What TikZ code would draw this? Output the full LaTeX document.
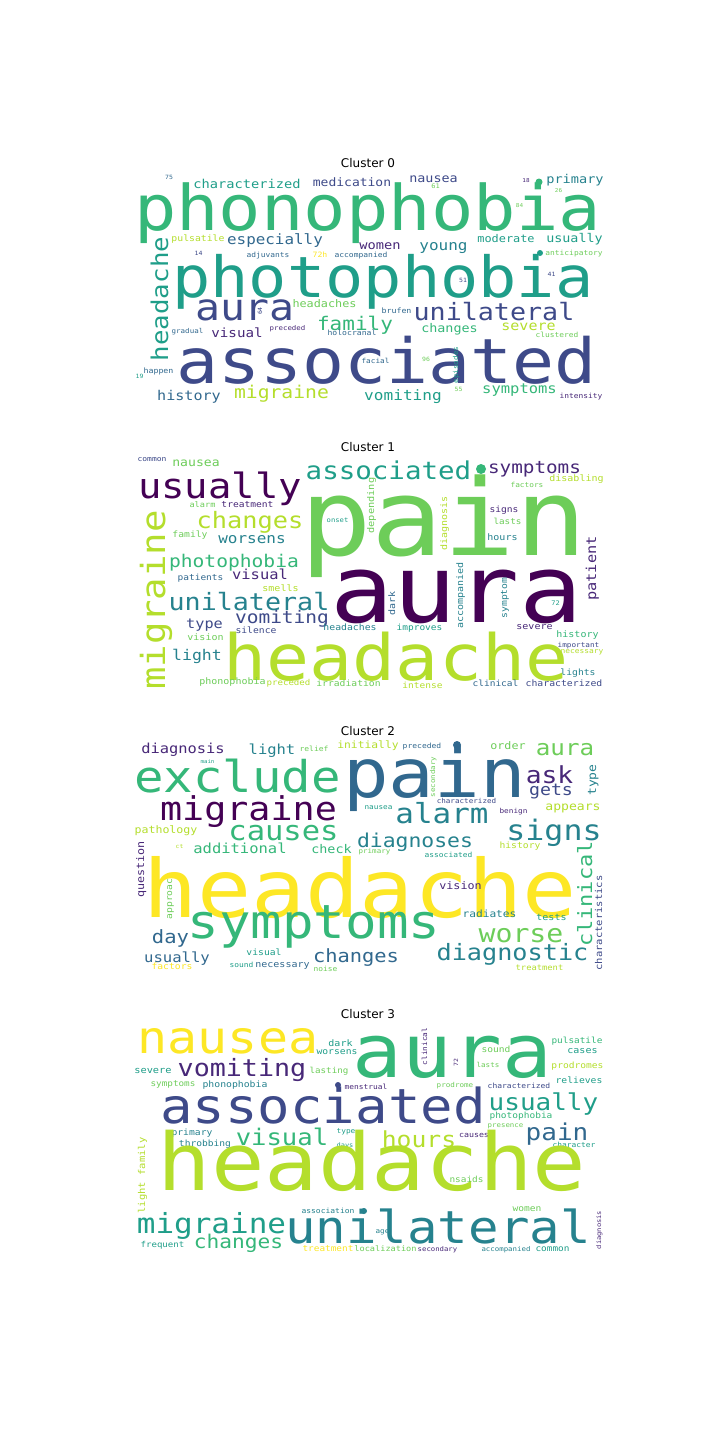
\documentclass[tikz,border=0pt]{standalone}
\usepackage{fontspec}
\usepackage{xcolor}
\usepackage{tikz}
\newfontfamily\cloudfont[FakeStretch=1.12]{DejaVu Sans Mono}
\newfontfamily\titlefont{DejaVu Sans}
\definecolor{vA}{HTML}{440154}
\definecolor{vB}{HTML}{482878}
\definecolor{vC}{HTML}{3E4A89}
\definecolor{vD}{HTML}{31688E}
\definecolor{vE}{HTML}{26828E}
\definecolor{vF}{HTML}{1F9E89}
\definecolor{vG}{HTML}{35B779}
\definecolor{vH}{HTML}{6DCD59}
\definecolor{vI}{HTML}{B4DE2C}
\definecolor{vJ}{HTML}{FDE725}

\begin{document}
\begin{tikzpicture}[x=1pt,y=-1pt,
  word/.style={font={\pgfmathsetmacro\wsz{#1/1.12}\cloudfont\fontsize{\wsz pt}{\wsz pt}\selectfont},inner sep=0pt,anchor=base},
  vword/.style={word=#1,rotate=90},
  ctitle/.style={font=\titlefont\fontsize{12pt}{12pt}\selectfont,inner sep=0pt,anchor=base}]
  \useasboundingbox (0,0) rectangle (720,1440);
  \fill[white] (0,0) rectangle (720,1440);

  \node[ctitle] (t0) at (368,167) {Cluster 0};
  \node[word=6.5,vD] (a-75) at (169,179) {75};
  \node[word=13.7,vF] (a-characterized) at (247,188) {characterized};
  \node[word=13,vC] (a-medication) at (352,186) {medication};
  \node[word=13.4,vC] (a-nausea) at (433.5,182) {nausea};
  \node[word=7,vH] (a-61) at (435.5,188) {61};
  \node[word=6,vB] (a-18) at (526,182) {18};
  \fill[vG] (539,182) circle (3.5);
  \node[word=13.6,vE] (a-primary) at (575,183) {primary};
  \node[word=6,vH] (a-26) at (558.5,192) {26};
  \node[word=6,vH] (a-84) at (519.5,207) {84};
  \node[word=70.5,vG] (a-phonophobia) at (367.5,230) {phonophobia};
  \node[word=9.8,vI] (a-pulsatile) at (198,241) {pulsatile};
  \node[word=15.9,vD] (a-especially) at (275,244) {especially};
  \node[word=6.5,vC] (a-14) at (198.5,255) {14};
  \node[word=7.9,vD] (a-adjuvants) at (268,257) {adjuvants};
  \node[word=13.7,vB] (a-women) at (380,249) {women};
  \node[word=16,vE] (a-young) at (443.5,250) {young};
  \node[word=8.2,vJ] (a-72h) at (320,257) {72h};
  \node[word=8,vD] (a-accompanied) at (361,257) {accompanied};
  \node[word=11.9,vF] (a-moderate) at (506,242) {moderate};
  \node[word=13.4,vF] (a-usually) at (574.5,242) {usually};
  \fill[vF] (540,253) circle (3);
  \node[word=7.9,vH] (a-anticipatory) at (574,255) {anticipatory};
  \node[word=63.6,vF] (a-photophobia) at (383,297) {photophobia};
  \node[word=6.5,vC] (a-41) at (551.5,276) {41};
  \node[word=6.5,vC] (a-51) at (463,282) {51};
  \node[vword=6.5,vC] (a-64) at (262,311) {64};
  \node[word=41.5,vC] (a-aura) at (245,320) {aura};
  \node[vword=25.8,vF] (a-headache) at (168,299) {headache};
  \node[word=11.8,vH] (a-headaches) at (324.5,307) {headaches};
  \node[word=26.7,vC] (a-unilateral) at (494,320) {unilateral};
  \node[word=21,vG] (a-family) at (355,330) {family};
  \node[word=8.3,vD] (a-brufen) at (396.5,313) {brufen};
  \node[word=13.4,vG] (a-changes) at (449.5,332) {changes};
  \node[word=15,vI] (a-severe) at (528.5,330) {severe};
  \node[word=14.2,vB] (a-visual) at (237,337) {visual};
  \node[word=7.5,vD] (a-gradual) at (187.5,333) {gradual};
  \node[word=7.4,vB] (a-preceded) at (287.5,330) {preceded};
  \node[word=8.1,vD] (a-holocranal) at (352,335) {holocranal};
  \node[word=7.9,vH] (a-clustered) at (557,337) {clustered};
  \node[word=69.8,vC] (a-associated) at (386.5,383) {associated};
  \node[word=7.7,vD] (a-facial) at (375.5,363) {facial};
  \node[word=6.5,vH] (a-96) at (426,361) {96};
  \node[word=6.5,vF] (a-19) at (139.5,378) {19};
  \node[word=8.3,vD] (a-happen) at (158.5,373) {happen};
  \node[vword=7.6,vF] (a-episodes) at (458,365) {episodes};
  \node[word=6.5,vH] (a-55) at (458.5,391) {55};
  \node[word=7.9,vB] (a-intensity) at (581,398) {intensity};
  \node[word=15.5,vG] (a-symptoms) at (519.5,393) {symptoms};
  \node[word=15.1,vD] (a-history) at (189,400) {history};
  \node[word=19.7,vI] (a-migraine) at (281.5,398) {migraine};
  \node[word=16.1,vF] (a-vomiting) at (403,400) {vomiting};

  \node[ctitle] (t1) at (368,451) {Cluster 1};
  \node[word=8,vC] (b-common) at (152,461) {common};
  \node[word=13.1,vH] (b-nausea) at (196,466) {nausea};
  \node[word=38.9,vA] (b-usually) at (220,498) {usually};
  \node[word=27.5,vF] (b-associated) at (388.5,479) {associated};
  \fill[vG] (481,469) circle (5);
  \node[word=19.3,vB] (b-symptoms) at (534.5,473) {symptoms};
  \node[word=10,vI] (b-disabling) at (576.5,481) {disabling};
  \node[word=7.8,vH] (b-factors) at (527,487) {factors};
  \node[word=119,vH] (b-pain) at (443.5,555) {pain};
  \node[word=105,vA] (b-aura) at (456.5,622) {aura};
  \node[word=71.5,vI] (b-headache) at (396,680) {headache};
  \node[vword=37.3,vI] (b-migraine) at (165,600) {migraine};
  \node[word=25.3,vI] (b-changes) at (250,528) {changes};
  \node[word=8.6,vH] (b-alarm) at (202.5,507) {alarm};
  \node[word=9.6,vB] (b-treatment) at (247.5,507) {treatment};
  \node[word=9.7,vH] (b-family) at (190,537) {family};
  \node[word=16,vE] (b-worsens) at (252,543) {worsens};
  \node[word=7.2,vF] (b-onset) at (337.5,522) {onset};
  \node[vword=10.3,vH] (b-depending) at (374,505.5) {depending};
  \node[vword=10,vI] (b-diagnosis) at (447,523.5) {diagnosis};
  \node[word=9.6,vB] (b-signs) at (504,512) {signs};
  \node[word=9.3,vH] (b-lasts) at (507.5,524) {lasts};
  \node[word=10,vE] (b-hours) at (502.5,540) {hours};
  \node[vword=15.3,vB] (b-patient) at (596,568.5) {patient};
  \node[word=19.6,vG] (b-photophobia) at (234,567) {photophobia};
  \node[word=15.4,vB] (b-visual) at (260,579) {visual};
  \node[word=9.5,vD] (b-patients) at (200.5,580) {patients};
  \node[word=10,vI] (b-smells) at (280.5,591) {smells};
  \node[word=26.7,vE] (b-unilateral) at (249,610) {unilateral};
  \node[vword=10,vD] (b-dark) at (395,603.5) {dark};
  \node[vword=10,vE] (b-accompanied) at (463,595.5) {accompanied};
  \node[vword=9.7,vE] (b-symptom) at (507,598) {symptom};
  \node[word=7,vF] (b-72) at (555.5,605) {72};
  \node[word=15.2,vC] (b-type) at (204.5,628) {type};
  \node[word=19.5,vC] (b-vomiting) at (282,623) {vomiting};
  \node[word=9.7,vC] (b-silence) at (256,633) {silence};
  \node[word=10,vH] (b-vision) at (205.5,640) {vision};
  \node[word=9.8,vE] (b-headaches) at (350,630) {headaches};
  \node[word=9.5,vF] (b-improves) at (419.5,630) {improves};
  \node[word=10,vB] (b-severe) at (534.5,629) {severe};
  \node[word=10,vG] (b-history) at (577.5,637) {history};
  \node[word=7.7,vC] (b-important) at (578.5,647) {important};
  \node[word=7.9,vI] (b-necessary) at (582,653) {necessary};
  \node[word=16.5,vE] (b-light) at (197,660) {light};
  \node[word=9.7,vE] (b-lights) at (578,675) {lights};
  \node[word=10,vH] (b-phonophobia) at (232.5,684) {phonophobia};
  \node[word=9.1,vI] (b-preceded) at (288.5,685) {preceded};
  \node[word=9.7,vH] (b-irradiation) at (348.5,686) {irradiation};
  \node[word=9.5,vI] (b-intense) at (422.5,688) {intense};
  \node[word=9.5,vD] (b-clinical) at (495.5,686) {clinical};
  \node[word=9.8,vC] (b-characterized) at (564,686) {characterized};

  \node[ctitle] (t2) at (368,735) {Cluster 2};
  \node[word=15.4,vB] (c-diagnosis) at (183,753) {diagnosis};
  \node[word=15.5,vE] (c-light) at (272,754) {light};
  \node[word=5.8,vF] (c-main) at (207.5,763) {main};
  \node[word=8,vH] (c-relief) at (314,751) {relief};
  \node[word=11.3,vI] (c-initially) at (368,748) {initially};
  \node[word=8,vD] (c-preceded) at (422,748) {preceded};
  \fill[vD] (457,745) circle (4);
  \node[word=11.7,vH] (c-order) at (508,749) {order};
  \node[word=24.2,vH] (c-aura) at (565,755) {aura};
  \node[word=49,vG] (c-exclude) at (237.5,792) {exclude};
  \node[word=75.8,vD] (c-pain) at (434.5,797) {pain};
  \node[word=26.3,vB] (c-ask) at (549.5,783) {ask};
  \node[vword=13,vE] (c-type) at (596,780) {type};
  \node[word=18.2,vC] (c-gets) at (551,795) {gets};
  \node[word=36.7,vA] (c-migraine) at (248.5,820) {migraine};
  \node[word=30.9,vE] (c-alarm) at (442,823) {alarm};
  \node[word=13.1,vI] (c-appears) at (573,810) {appears};
  \node[word=7.6,vC] (c-characterized) at (466.5,803) {characterized};
  \node[vword=7.5,vH] (c-secondary) at (435,777) {secondary};
  \node[word=7.7,vB] (c-benign) at (513.5,813) {benign};
  \node[word=7.7,vF] (c-nausea) at (378.5,809) {nausea};
  \node[word=30.5,vG] (c-causes) at (283.5,840) {causes};
  \node[word=31.6,vE] (c-signs) at (554,840) {signs};
  \node[word=21.4,vE] (c-diagnoses) at (415,847) {diagnoses};
  \node[word=11.6,vI] (c-pathology) at (166,833) {pathology};
  \node[word=15.5,vG] (c-additional) at (240,853) {additional};
  \node[word=13.4,vG] (c-check) at (331.5,853) {check};
  \node[word=6.4,vI] (c-ct) at (179.5,848) {ct};
  \node[word=7.5,vH] (c-primary) at (374.5,853) {primary};
  \node[word=7.9,vF] (c-associated) at (448.5,857) {associated};
  \node[word=9.7,vI] (c-history) at (520,848) {history};
  \node[vword=22,vG] (c-clinical) at (592,894) {clinical};
  \node[vword=11.7,vB] (c-question) at (144,869.5) {question};
  \node[vword=9.7,vH] (c-approach) at (172,896) {approach};
  \node[word=90,vJ] (c-headache) at (360,917) {headache};
  \node[word=11.7,vB] (c-vision) at (460.5,889) {vision};
  \node[vword=10.5,vC] (c-characteristics) at (602,923) {characteristics};
  \node[word=11.2,vE] (c-radiates) at (489.5,917) {radiates};
  \node[word=10,vF] (c-tests) at (551.5,920) {tests};
  \node[word=52.5,vG] (c-symptoms) at (314,938) {symptoms};
  \node[word=28.2,vH] (c-worse) at (521,942) {worse};
  \node[word=20.5,vD] (c-day) at (170.5,943) {day};
  \node[word=20.4,vD] (c-changes) at (356,962) {changes};
  \node[word=25.2,vE] (c-diagnostic) at (512.5,960) {diagnostic};
  \node[word=15.6,vD] (c-usually) at (177,962) {usually};
  \node[word=9.7,vF] (c-visual) at (264,955) {visual};
  \node[word=7.9,vF] (c-sound) at (241.5,967) {sound};
  \node[word=10,vD] (c-necessary) at (282.5,967) {necessary};
  \node[word=9.7,vJ] (c-factors) at (172,969) {factors};
  \node[word=7.9,vH] (c-noise) at (325.5,971) {noise};
  \node[word=8.8,vI] (c-treatment) at (539.5,970) {treatment};

  \node[ctitle] (t3) at (368,1018) {Cluster 3};
  \node[word=50,vJ] (d-nausea) at (228,1053) {nausea};
  \node[word=82.7,vG] (d-aura) at (452.5,1077) {aura};
  \node[word=26.7,vB] (d-vomiting) at (242,1076) {vomiting};
  \node[word=10.3,vF] (d-severe) at (153,1073) {severe};
  \node[word=9.3,vH] (d-symptoms) at (173,1086) {symptoms};
  \node[word=9.8,vE] (d-phonophobia) at (235,1087) {phonophobia};
  \node[word=10,vF] (d-dark) at (340.5,1046) {dark};
  \node[word=9.7,vF] (d-worsens) at (337,1054) {worsens};
  \node[word=9.2,vH] (d-lasting) at (329,1073) {lasting};
  \node[vword=7.8,vB] (d-clinical) at (427,1046.5) {clinical};
  \node[vword=6.5,vB] (d-72) at (458,1062.5) {72};
  \node[word=9.6,vH] (d-sound) at (496,1052) {sound};
  \node[word=7.6,vH] (d-lasts) at (488,1067) {lasts};
  \node[word=9.4,vG] (d-pulsatile) at (577,1043) {pulsatile};
  \node[word=10,vF] (d-cases) at (582.5,1053) {cases};
  \node[word=9.6,vI] (d-prodromes) at (577.5,1068) {prodromes};
  \node[word=9.7,vF] (d-relieves) at (579,1083) {relieves};
  \node[word=7.6,vH] (d-prodrome) at (455,1087) {prodrome};
  \node[word=7.9,vB] (d-menstrual) at (366,1089) {menstrual};
  \fill[vC] (338,1085) circle (3);
  \node[word=8,vC] (d-characterized) at (519,1088) {characterized};
  \node[word=54,vC] (d-associated) at (323,1123) {associated};
  \node[word=26,vF] (d-usually) at (543.5,1110) {usually};
  \node[word=9.5,vG] (d-photophobia) at (521,1118) {photophobia};
  \node[word=7.4,vH] (d-presence) at (505.5,1127) {presence};
  \node[word=25.6,vG] (d-visual) at (282,1145) {visual};
  \node[word=9.7,vE] (d-primary) at (192,1135) {primary};
  \node[word=9.6,vE] (d-throbbing) at (205,1146) {throbbing};
  \node[word=7.8,vF] (d-type) at (346,1133) {type};
  \node[word=7,vF] (d-days) at (345,1147) {days};
  \node[word=24.7,vI] (d-hours) at (419,1147) {hours};
  \node[word=26,vD] (d-pain) at (557,1140) {pain};
  \node[word=8.3,vB] (d-causes) at (474,1137) {causes};
  \node[word=7.9,vF] (d-character) at (574,1147) {character};
  \node[word=89,vI] (d-headache) at (372,1190) {headache};
  \node[word=9.4,vH] (d-nsaids) at (466.5,1182) {nsaids};
  \node[vword=10.5,vI] (d-lightfamily) at (145,1175.5) {light family};
  \node[word=31,vF] (d-migraine) at (211.5,1233) {migraine};
  \node[word=50.7,vE] (d-unilateral) at (438,1243) {unilateral};
  \node[word=21.2,vG] (d-changes) at (238.5,1248) {changes};
  \node[word=9.1,vF] (d-frequent) at (162.5,1247) {frequent};
  \node[word=8,vE] (d-association) at (328,1213) {association};
  \fill[vE] (364,1211) circle (3);
  \node[word=7.6,vE] (d-age) at (382.5,1233) {age};
  \node[word=9.6,vH] (d-women) at (527,1211) {women};
  \node[vword=7.1,vB] (d-diagnosis) at (601,1230) {diagnosis};
  \node[word=9.4,vJ] (d-treatment) at (328,1251) {treatment};
  \node[word=8.6,vH] (d-localization) at (385.5,1251) {localization};
  \node[word=7.3,vB] (d-secondary) at (437.5,1251) {secondary};
  \node[word=7.4,vE] (d-accompanied) at (506,1251) {accompanied};
  \node[word=9.4,vF] (d-common) at (552.5,1251) {common};
\end{tikzpicture}
\end{document}
